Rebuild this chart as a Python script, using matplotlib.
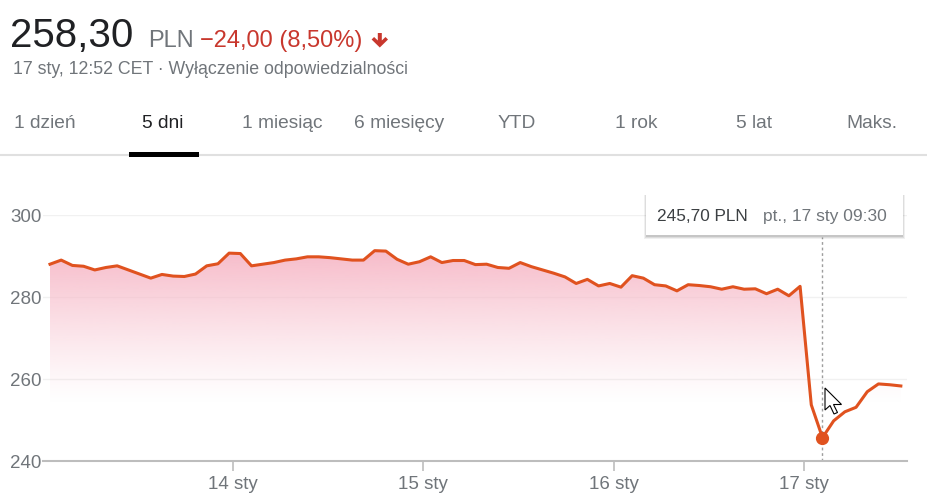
import numpy as np
import matplotlib
matplotlib.use('Agg')
import matplotlib.pyplot as plt
from matplotlib.patches import Polygon, Rectangle
from matplotlib.lines import Line2D
from matplotlib.transforms import Affine2D

plt.rcParams['font.family'] = ['Liberation Sans', 'DejaVu Sans']

# Data (30 min steps, 09:00 - 17:00)
day_labels = ['14 sty', '15 sty', '16 sty', '17 sty']
prices_13 = [288.0, 289.0, 287.7, 287.5, 286.6, 287.2, 287.6, 286.6, 285.6,
             284.6, 285.5, 285.1, 285.0, 285.6, 287.6, 288.1, 290.7]
prices_14 = [290.6, 287.6, 288.0, 288.4, 289.0, 289.3, 289.8, 289.8, 289.6,
             289.3, 289.0, 289.0, 291.3, 291.2, 289.2, 288.0, 288.6]
prices_15 = [289.8, 288.4, 288.9, 288.9, 287.9, 288.0, 287.2, 287.0, 288.4,
             287.4, 286.6, 285.8, 284.9, 283.3, 284.3, 282.7, 283.3]
prices_16 = [282.4, 285.2, 284.6, 283.0, 282.7, 281.5, 283.0, 282.8, 282.5,
             281.9, 282.5, 281.9, 282.0, 280.8, 281.9, 280.3, 282.6]
prices_17 = [253.7, 245.7, 249.8, 252.0, 253.1, 256.9, 258.8, 258.6, 258.3]
y_ticks = [240, 260, 280, 300]
tabs = ['1 dzień', '5 dni', '1 miesiąc', '6 miesięcy', 'YTD', '1 rok', '5 lat', 'Maks.']
tab_x = [45, 163, 282, 399, 517, 636, 754, 872]

days = [prices_13, prices_14, prices_15, prices_16, prices_17]
prices = np.concatenate(days)
x = np.arange(len(prices))
day_start = np.cumsum([0] + [len(d) for d in days])[1:-1]
tick_pos = day_start - 0.65

LINE = '#e0521f'
GRAY = '#70757a'
RED = '#c8372d'

W, H = 928, 504
fig = plt.figure(figsize=(W / 100, H / 100), dpi=100)
px = Affine2D().scale(1 / W, -1 / H).translate(0, 1) + fig.transFigure

# header
fig.text(10, 47, '258,30', size=29, color='#202124', transform=px, va='baseline')
fig.text(148, 47, 'PLN', size=17, color=GRAY, transform=px, va='baseline')
fig.text(200, 47, '\u221224,00 (8,50%)', size=17, color=RED, transform=px, va='baseline')
arrow = [(377.8, 33), (381.8, 33), (381.8, 40.5), (385.5, 37), (388, 39.5), (379.8, 47.5),
         (371.6, 39.5), (374.1, 37), (377.8, 40.5)]
fig.add_artist(Polygon(arrow, closed=True, color=RED, transform=px, lw=0))
fig.text(13, 74, '17 sty, 12:52 CET \u00b7 Wyłączenie odpowiedzialności', size=12.8,
         color=GRAY, transform=px, va='baseline')

# tabs
for t, tx in zip(tabs, tab_x):
    fig.text(tx, 128, t, size=13.8, ha='center', va='baseline', transform=px,
             color='#202124' if t == '5 dni' else GRAY)
fig.add_artist(Line2D([0, W], [154.5, 154.5], color='#e0e0e0', lw=1.5, transform=px))
fig.add_artist(Rectangle((129, 152), 70, 5, color='#000000', lw=0, transform=px, zorder=3))

# chart
ax = fig.add_axes([43 / W, 1 - 461 / H, (907 - 43) / W, (461 - 215) / H])
ax.set_xlim(-0.625, 76.55)
ax.set_ylim(240, 300)

ax.plot(x, prices, color=LINE, lw=2.2, solid_joinstyle='round', zorder=3)
fill = ax.fill_between(x, prices, 240, color='none', lw=0)
vals = np.linspace(240, 292, 256)
alpha = np.clip((vals - 254) / 37, 0, 1) ** 1.2
grad = np.zeros((256, 1, 4))
grad[..., 0] = 247 / 255
grad[..., 1] = 188 / 255
grad[..., 2] = 202 / 255
grad[..., 3] = alpha[:, None]
im = ax.imshow(grad, extent=[x[0], x[-1], 240, 292], origin='lower', aspect='auto', zorder=1)
im.set_clip_path(fill.get_paths()[0], transform=ax.transData)

ax.set_yticks(y_ticks)
ax.grid(axis='y', color='#f1f1f1', lw=1)
ax.set_axisbelow(True)
for s in ['top', 'right', 'left']:
    ax.spines[s].set_visible(False)
ax.spines['bottom'].set_color('#bdbdbd')
ax.spines['bottom'].set_linewidth(1.5)
ax.tick_params(axis='y', length=0, pad=1, labelsize=13.5, labelcolor=GRAY)
ax.set_xticks(tick_pos)
ax.set_xticklabels(day_labels)
ax.tick_params(axis='x', length=7, width=1.2, color='#bdbdbd', pad=4,
               labelsize=13.5, labelcolor=GRAY)

# hovered point
hi = int(np.argmin(prices))
ax.axvline(hi, ymin=0, ymax=0.91, color='#9e9e9e', lw=1, ls=(0, (2, 2)), zorder=2)
ax.plot(hi, prices[hi], 'o', ms=8.5, color=LINE, zorder=4)

# tooltip
for off, a in [(3, 0.06), (2, 0.08), (1, 0.1)]:
    fig.add_artist(Rectangle((646 - off + 1, 194 + 1), 257 + 2 * off - 2, 41 + off,
                             color='#000000', alpha=a, lw=0, transform=px))
fig.add_artist(Rectangle((646, 194), 257, 41, facecolor='white', lw=0, transform=px))
fig.text(657, 221, f'{prices[hi]:.2f}'.replace('.', ',') + ' PLN', size=12.4,
         color='#3c4043', transform=px, va='baseline')
fig.text(763, 221, 'pt., 17 sty 09:30', size=12.5, color=GRAY, transform=px, va='baseline')

# mouse cursor
cur = [(0, 0), (0, 22), (5, 17.5), (9, 26), (12.5, 24.5), (8.5, 16.5), (16.5, 16.5)]
fig.add_artist(Polygon([(825 + a, 388 + b) for a, b in cur], closed=True,
                       facecolor='white', edgecolor='black', lw=0.8, transform=px, zorder=5))

fig.savefig('out.png', dpi=100)
